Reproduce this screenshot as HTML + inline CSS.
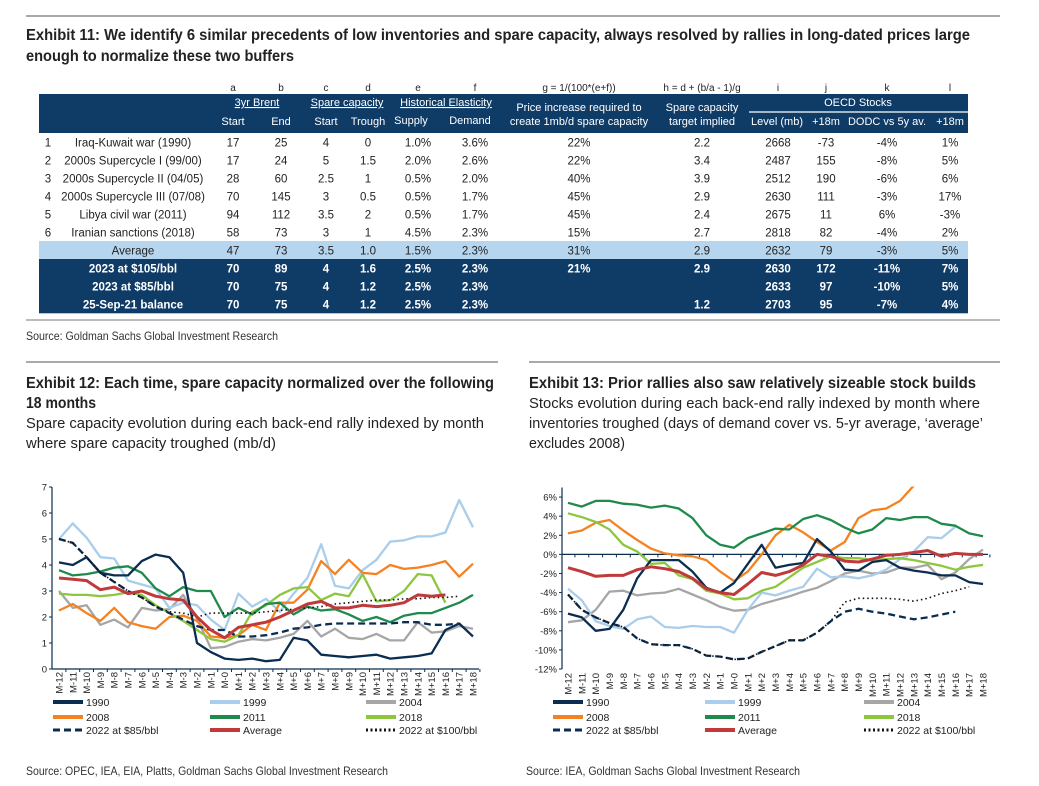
<!DOCTYPE html>
<html><head><meta charset="utf-8"><style>
html,body{margin:0;padding:0;background:#fff;width:1039px;height:786px;overflow:hidden}
svg{display:block}
text{font-family:"Liberation Sans",sans-serif}
.n{font-family:"Liberation Sans Narrow","Liberation Sans",sans-serif}
</style></head><body>
<svg id="pg" width="1039" height="786" viewBox="0 0 1039 786" xmlns="http://www.w3.org/2000/svg">
<line x1="26" y1="16" x2="1000" y2="16" stroke="#777" stroke-width="1.2"/>
<text class="n" x="26" y="40" font-size="16" font-weight="bold" fill="#222" textLength="944" lengthAdjust="spacingAndGlyphs">Exhibit 11: We identify 6 similar precedents of low inventories and spare capacity, always resolved by rallies in long-dated prices large</text>
<text class="n" x="26" y="61" font-size="16" font-weight="bold" fill="#222" textLength="268" lengthAdjust="spacingAndGlyphs">enough to normalize these two buffers</text>
<g id="tbl"></g>
<line x1="26" y1="320" x2="1000" y2="320" stroke="#777" stroke-width="1"/>
<text class="n" x="26" y="340" font-size="12" fill="#333" textLength="252" lengthAdjust="spacingAndGlyphs">Source: Goldman Sachs Global Investment Research</text>
<line x1="26" y1="362" x2="498" y2="362" stroke="#777" stroke-width="1.2"/>
<line x1="529" y1="362" x2="1000" y2="362" stroke="#777" stroke-width="1.2"/>
<text class="n" x="26" y="388" font-size="16" font-weight="bold" fill="#222" textLength="468" lengthAdjust="spacingAndGlyphs">Exhibit 12: Each time, spare capacity normalized over the following</text>
<text class="n" x="26" y="408" font-size="16" font-weight="bold" fill="#222" textLength="70" lengthAdjust="spacingAndGlyphs">18 months</text>
<text class="n" x="26" y="428" font-size="15" fill="#222" textLength="458" lengthAdjust="spacingAndGlyphs">Spare capacity evolution during each back-end rally indexed by month</text>
<text class="n" x="26" y="448" font-size="15" fill="#222" textLength="250" lengthAdjust="spacingAndGlyphs">where spare capacity troughed (mb/d)</text>
<text class="n" x="529" y="388" font-size="16" font-weight="bold" fill="#222" textLength="447" lengthAdjust="spacingAndGlyphs">Exhibit 13: Prior rallies also saw relatively sizeable stock builds</text>
<text class="n" x="529" y="408" font-size="15" fill="#222" textLength="451" lengthAdjust="spacingAndGlyphs">Stocks evolution during each back-end rally indexed by month where</text>
<text class="n" x="529" y="428" font-size="15" fill="#222" textLength="454" lengthAdjust="spacingAndGlyphs">inventories troughed (days of demand cover vs. 5-yr average, ‘average’</text>
<text class="n" x="529" y="448" font-size="15" fill="#222" textLength="96" lengthAdjust="spacingAndGlyphs">excludes 2008)</text>
<g id="c1"></g>
<g id="c2"></g>
<text class="n" x="26" y="775" font-size="12" fill="#333" textLength="362" lengthAdjust="spacingAndGlyphs">Source: OPEC, IEA, EIA, Platts, Goldman Sachs Global Investment Research</text>
<text class="n" x="526" y="775" font-size="12" fill="#333" textLength="274" lengthAdjust="spacingAndGlyphs">Source: IEA, Goldman Sachs Global Investment Research</text>
</svg>
<script>
// ---------- TABLE DATA ----------
const colLetters=["a","b","c","d","e","f","g = 1/(100*(e+f))","h = d + (b/a - 1)/g","i","j","k","l"];
const precedentRows=[
["1","Iraq-Kuwait war (1990)","17","25","4","0","1.0%","3.6%","22%","2.2","2668","-73","-4%","1%"],
["2","2000s Supercycle I (99/00)","17","24","5","1.5","2.0%","2.6%","22%","3.4","2487","155","-8%","5%"],
["3","2000s Supercycle II (04/05)","28","60","2.5","1","0.5%","2.0%","40%","3.9","2512","190","-6%","6%"],
["4","2000s Supercycle III (07/08)","70","145","3","0.5","0.5%","1.7%","45%","2.9","2630","111","-3%","17%"],
["5","Libya civil war (2011)","94","112","3.5","2","0.5%","1.7%","45%","2.4","2675","11","6%","-3%"],
["6","Iranian sanctions (2018)","58","73","3","1","4.5%","2.3%","15%","2.7","2818","82","-4%","2%"]];
const averageRow=["","Average","47","73","3.5","1.0","1.5%","2.3%","31%","2.9","2632","79","-3%","5%"];
const scenarioRows=[
["","2023 at $105/bbl","70","89","4","1.6","2.5%","2.3%","21%","2.9","2630","172","-11%","7%"],
["","2023 at $85/bbl","70","75","4","1.2","2.5%","2.3%","","","2633","97","-10%","5%"],
["","25-Sep-21 balance","70","75","4","1.2","2.5%","2.3%","","1.2","2703","95","-7%","4%"]];
const NS="http://www.w3.org/2000/svg";
function mk(parent,tag,attrs,txt){const e=document.createElementNS(NS,tag);for(const k in attrs)e.setAttribute(k,attrs[k]);if(txt!==undefined)e.textContent=txt;parent.appendChild(e);return e;}
(function(){
const g=document.getElementById('tbl');
const cx=[48,133,233,281,326,368,418,475,579,702,778,826,887,950];
const NAVY="#0f3b67",LB="#b6d6f0";
colLetters.forEach((l,i)=>{const t=mk(g,'text',{x:cx[i+2],y:91,'font-size':10,'text-anchor':'middle',fill:'#222'},l);
});
const hb=mk(g,'rect',{x:39,y:94,width:929,height:39,fill:NAVY});

const H=[[257,106,"3yr Brent",1],[347,106,"Spare capacity",1],[446,106,"Historical Elasticity",1],
[233,125,"Start"],[281,125,"End"],[326,125,"Start"],[368,125,"Trough"],[411,124,"Supply"],[470,124,"Demand"],
[579,111,"Price increase required to"],[579,125,"create 1mb/d spare capacity"],[702,111,"Spare capacity"],[702,125,"target implied"],
[858,106,"OECD Stocks"],[777,125,"Level (mb)"],[826,125,"+18m"],[887,125,"DODC vs 5y av."],[950,125,"+18m"]];
H.forEach(h=>{const t=mk(g,'text',{x:h[0],y:h[1],'font-size':11,'text-anchor':'middle',fill:'#fff','text-decoration':h[3]?'underline':'none'},h[2]);
});
mk(g,'line',{x1:749,y1:112,x2:968,y2:112,stroke:'#fff','stroke-width':1.2});
const all=precedentRows.map(r=>[r,'n']).concat([[averageRow,'a']],scenarioRows.map(r=>[r,'s']));
all.forEach(([r,type],ri)=>{
 const y=133+ri*18;
 if(type!=='n'){const b=mk(g,'rect',{x:39,y:y,width:929,height:18.3,fill:type==='a'?LB:NAVY});
  }
 r.forEach((v,ci)=>{if(!v)return;
  const t=mk(g,'text',{x:cx[ci],y:y+13.5,'font-size':11.5,'text-anchor':'middle',fill:type==='s'?'#fff':'#222','font-weight':type==='s'?'bold':'normal'},v);
  });
});
})();

// ---------- CHART DATA ----------
const months=["M-12","M-11","M-10","M-9","M-8","M-7","M-6","M-5","M-4","M-3","M-2","M-1","M-0","M+1","M+2","M+3","M+4","M+5","M+6","M+7","M+8","M+9","M+10","M+11","M+12","M+13","M+14","M+15","M+16","M+17","M+18"];
const seriesNames=["1990","1999","2004","2008","2011","2018","2022 at $85/bbl","Average","2022 at $100/bbl"];
const spareTicks=[0,1,2,3,4,5,6,7];
const spare1990=[4.1,4.0,4.3,3.7,3.6,3.6,4.15,4.4,4.3,3.7,1.0,0.65,0.4,0.35,0.4,0.3,0.35,1.2,1.1,0.55,0.5,0.45,0.5,0.55,0.4,0.45,0.5,0.6,1.5,1.75,1.25];
const spare1999=[5.0,5.6,5.05,4.3,4.25,3.4,3.25,3.1,2.35,2.55,2.45,1.9,1.5,2.9,2.4,2.7,2.2,2.9,3.5,4.8,3.2,3.1,3.8,4.2,4.9,4.95,5.1,5.1,5.25,6.5,5.45];
const spare2004=[3.0,2.35,2.45,1.7,1.9,1.6,2.35,2.25,2.3,2.85,1.95,0.8,0.85,1.05,1.15,1.1,1.2,1.35,1.85,1.25,1.55,1.2,1.15,1.35,1.1,1.1,1.8,1.4,1.45,1.65,1.55];
const spare2008=[2.25,2.5,2.15,1.85,2.35,1.8,1.65,1.55,2.0,2.05,1.85,1.25,1.2,1.3,1.7,1.5,2.55,2.55,3.05,4.15,3.65,4.2,3.7,3.65,4.0,3.85,3.9,4.0,4.15,3.55,4.05];
const spare2011=[3.8,3.6,3.65,3.75,3.9,3.95,3.7,3.1,2.8,3.15,3.0,3.0,2.0,2.35,2.1,2.5,2.55,2.1,2.4,2.25,2.3,2.1,1.85,2.0,1.8,2.05,2.15,2.15,2.35,2.55,2.85];
const spare2018=[2.9,2.85,2.85,2.8,2.85,2.95,2.85,2.45,2.15,1.85,1.5,1.15,1.05,1.3,2.2,2.45,2.85,3.1,3.15,2.65,2.9,2.8,3.65,2.6,2.65,3.0,3.65,3.6,2.55,null,null];
const spareAvg=[3.5,3.45,3.4,3.05,3.15,2.9,3.0,2.8,2.7,2.65,2.0,1.5,1.2,1.6,1.7,1.8,2.0,2.25,2.5,2.6,2.35,2.35,2.45,2.4,2.45,2.55,2.85,2.8,2.85,null,null];
const spare85=[5.0,4.85,4.3,3.7,3.35,3.0,2.75,2.4,2.15,1.9,1.65,1.5,1.5,1.25,1.25,1.3,1.4,1.55,1.6,1.7,1.75,1.75,1.75,1.75,1.75,1.8,1.8,1.7,1.7,1.75,null];
const spare100=[5.0,4.85,4.3,3.7,3.35,3.0,2.75,2.4,2.2,2.15,2.0,2.15,2.15,2.15,2.15,2.2,2.25,2.3,2.35,2.4,2.5,2.55,2.6,2.65,2.65,2.7,2.7,2.75,2.75,2.8,null];
const stockTicks=[6,4,2,0,-2,-4,-6,-8,-10,-12];
const stock1990=[-6.2,-6.6,-8.0,-7.8,-5.8,-2.5,-0.6,-0.6,-0.6,-1.8,-3.5,-4.0,-3.0,-1.0,1.0,-1.4,-1.1,-0.9,1.6,0.3,-1.6,-1.7,-0.8,-0.6,-1.4,-1.7,-1.9,-2.2,-2.2,-2.9,-3.1];
const stock1999=[-3.6,-4.8,-7.0,-7.5,-7.8,-6.8,-6.5,-7.6,-7.7,-7.5,-7.6,-7.6,-8.2,-5.8,-4.0,-4.3,-3.8,-3.4,-1.5,-2.4,-2.3,-2.5,-2.2,-1.6,-0.5,0.3,1.8,1.7,2.9,null,null];
const stock2004=[-7.1,-6.9,-5.8,-3.9,-3.8,-4.3,-4.1,-4.0,-3.6,-4.2,-4.8,-5.5,-5.9,-5.8,-5.2,-4.8,-4.4,-3.9,-3.5,-2.8,-2.0,-1.7,-2.0,-1.9,-1.4,-1.4,-1.1,-2.6,-1.9,-0.5,0.5];
const stock2008=[2.2,2.5,3.3,3.6,2.5,1.5,0.6,0.1,-0.1,-0.2,-0.6,-1.8,-2.8,-1.8,0.0,2.0,3.1,2.3,1.3,0.4,1.3,3.8,4.6,4.8,5.6,7.2,null,null,null,null,null];
const stock2011=[5.4,5.0,5.6,5.6,5.3,5.2,4.9,5.1,4.8,3.8,2.0,1.0,0.7,1.7,2.2,2.7,2.6,3.7,4.1,3.6,2.8,2.2,2.6,3.8,3.6,3.9,3.9,3.2,3.0,2.2,1.9];
const stock2018=[4.3,3.9,3.4,2.6,1.0,0.3,-1.0,-0.9,-2.2,-2.6,-3.8,-4.1,-4.7,-4.6,-3.8,-3.4,-2.4,-1.4,-0.8,-0.2,-0.4,-0.4,-0.6,-0.5,-0.4,-0.6,-0.9,-1.2,-1.6,-1.3,-1.1];
const stockAvg=[-1.4,-1.8,-2.3,-2.2,-2.2,-1.6,-1.3,-1.5,-1.8,-2.5,-3.6,-4.0,-4.2,-3.1,-1.9,-2.2,-1.8,-1.1,0.0,-0.2,-0.7,-0.8,-0.5,-0.1,0.0,0.2,0.4,-0.2,0.1,0.0,0.0];
const stock85=[-4.2,-5.8,-6.6,-7.2,-7.6,-8.8,-9.4,-9.5,-9.5,-9.9,-10.6,-10.7,-11.0,-10.9,-10.2,-9.6,-9.0,-9.0,-8.2,-7.0,-6.0,-5.7,-6.0,-6.2,-6.5,-6.8,-6.6,-6.3,-6.0,null,null];
const stock100=[-4.2,-5.8,-6.6,-7.2,-7.6,-8.8,-9.4,-9.5,-9.5,-9.9,-10.6,-10.7,-11.0,-10.9,-10.2,-9.6,-9.0,-9.0,-8.2,-7.0,-5.0,-4.6,-4.6,-4.6,-4.7,-4.9,-4.6,-4.1,-3.8,-3.4,null];

const styles=[
 {c:"#0b2d50",w:2.3,d:null},{c:"#a9cdea",w:2.3,d:null},{c:"#a6a6a6",w:2.3,d:null},
 {c:"#f58220",w:2.3,d:null},{c:"#1f8a4c",w:2.3,d:null},{c:"#8dc63f",w:2.3,d:null},
 {c:"#0b2d50",w:2.3,d:"7,4"},{c:"#c0393b",w:3,d:null},{c:"#111",w:1.6,d:"1.5,3"}];

function drawChart(gid,series,ticks,cfg){
 const g=document.getElementById(gid);
 const yS=v=>cfg.y0+(v-cfg.v0)*(cfg.y1-cfg.y0)/(cfg.v1-cfg.v0);
 const xS=i=>cfg.x0+i*(cfg.xN-cfg.x0)/(months.length-1);
 const clipId=gid+'clip';
 const defs=mk(g,'defs',{});const cp=mk(defs,'clipPath',{id:clipId});
 mk(cp,'rect',{x:cfg.ax-1,y:yS(cfg.v1)-1,width:cfg.axEnd-cfg.ax+2,height:yS(cfg.v0)-yS(cfg.v1)+2});
 ticks.forEach(t=>{
  const tl=mk(g,'line',{x1:cfg.ax-3,y1:yS(t),x2:cfg.ax,y2:yS(t),stroke:'#0b2d50'});
  
  const tt=mk(g,'text',{x:cfg.ax-5,y:yS(t)+3.5,'font-size':9.5,'text-anchor':'end',fill:'#222'},cfg.fmt(t));
  
 });
 const ya=mk(g,'line',{x1:cfg.ax,y1:yS(cfg.v1),x2:cfg.ax,y2:yS(cfg.v0),stroke:'#0b2d50','stroke-width':1.2});
 
 const xa=mk(g,'line',{x1:cfg.ax,y1:yS(cfg.xv),x2:cfg.axEnd,y2:yS(cfg.xv),stroke:'#0b2d50','stroke-width':1.2});
 
 months.forEach((m,i)=>{
  const x=xS(i)+(cfg.xN-cfg.x0)/60;
  const tk=mk(g,'line',{x1:x,y1:yS(cfg.xv),x2:x,y2:yS(cfg.xv)+3,stroke:'#0b2d50'});
  
  const t=mk(g,'text',{x:0,y:0,'font-size':9.5,'text-anchor':'end',fill:'#222',transform:`translate(${xS(i)+3.5},${cfg.lblY}) rotate(-90)`},m);
  
 });
 const order=[2,1,3,5,4,0,6,8,7];
 order.forEach(si=>{
  const d=series[si];const st=styles[si];let p='';let pen=false;
  d.forEach((v,i)=>{if(v===null){pen=false;return;}p+=(pen?'L':'M')+xS(i).toFixed(1)+','+yS(v).toFixed(1);pen=true;});
  const a={d:p,fill:'none',stroke:st.c,'stroke-width':st.w,'stroke-linejoin':'round','clip-path':`url(#${clipId})`};
  if(st.d)a['stroke-dasharray']=st.d;
  const pl=mk(g,'path',a);
  
 });
 const lx=[cfg.lx0,cfg.lx1,cfg.lx2];const ly=[702,717,730];
 seriesNames.forEach((n,i)=>{
  const col=i%3,row=Math.floor(i/3);const st=styles[i];
  const a={x1:lx[col],y1:ly[row],x2:lx[col]+30,y2:ly[row],stroke:st.c,'stroke-width':st.d?3:4};
  if(st.d)a['stroke-dasharray']=i===8?'2,2.5':'7,4';
  const l=mk(g,'line',a);
  
  const t=mk(g,'text',{x:lx[col]+33,y:ly[row]+4,'font-size':10.5,fill:'#222'},n);
  
 });
}
drawChart('c1',[spare1990,spare1999,spare2004,spare2008,spare2011,spare2018,spare85,spareAvg,spare100],spareTicks,
 {ax:52,axEnd:479,x0:59,xN:473,v0:0,v1:7,y0:669,y1:487,xv:0,lblY:672,fmt:v=>String(v),lx0:53,lx1:210,lx2:366});
drawChart('c2',[stock1990,stock1999,stock2004,stock2008,stock2011,stock2018,stock85,stockAvg,stock100],stockTicks,
 {ax:562,axEnd:988,x0:568,xN:983,v0:-12,v1:7,y0:669,y1:487.5,xv:0,lblY:673,fmt:v=>v+'%',lx0:553,lx1:705,lx2:864});
</script>
</body></html>
